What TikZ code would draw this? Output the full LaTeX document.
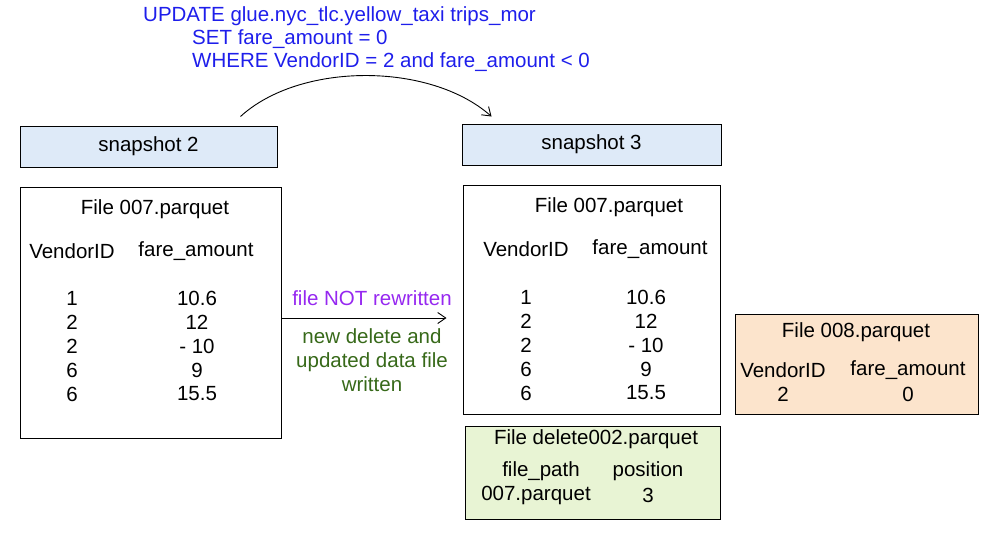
\documentclass[tikz,border=0pt]{standalone}
\usepackage{fontspec}
\setmainfont{Liberation Sans}
\usetikzlibrary{arrows.meta,positioning,calc}
\definecolor{sqlblue}{RGB}{30,30,235}
\definecolor{notpurple}{RGB}{150,40,240}
\definecolor{newgreen}{RGB}{55,105,25}
\definecolor{snapblue}{RGB}{222,234,248}
\definecolor{newfile}{RGB}{252,228,204}
\definecolor{delfile}{RGB}{232,244,212}

\begin{document}
\begin{tikzpicture}[
  x=1pt, y=-1pt,
  font=\fontsize{20.5}{24}\selectfont,
  box/.style={draw, line width=1pt, inner sep=0pt},
  snap/.style={box, fill=snapblue, minimum height=41pt},
  sql/.style={text=sqlblue, anchor=west, inner sep=0pt},
  arr/.style={-{Straight Barb[length=8pt,width=11pt]}, line width=0.9pt},
]
\useasboundingbox (0,0) rectangle (998,536);

\def\rh{24}  % row height

%% --- SQL statement ---
\node[sql] (upd) at (143,16) {UPDATE glue.nyc\_tlc.yellow\_taxi trips\_mor};
\node[sql] (set) at (192,39) {SET fare\_amount = 0};
\node[sql] (whr) at (192,62) {WHERE VendorID = 2 and fare\_amount < 0};

%% --- Snapshots ---
\node[snap, minimum width=257pt] (snap2) at (148.5,146.5) {snapshot 2};
\node[snap, minimum width=259pt] (snap3) at (591.5,144.5) {snapshot 3};
\draw[arr] ([xshift=-37pt,yshift=9pt]snap2.north east) .. controls (300,62) and (430,62)
  .. ([xshift=30pt,yshift=7pt]snap3.north west);

%% --- Snapshot 2 data file ---
\node[box, minimum width=261pt, minimum height=251pt] (lfile) at (150.5,312.5) {};
\node (ltitle) at (155,209) {File 007.parquet};
\node (lhv) at (72,251) {VendorID};
\node (lhf) at (196,251) {fare\_amount};
\foreach \v/\f [count=\i] in {1/10.6, 2/12, 2/- 10, 6/9, 6/15.5}{
  \node (lv\i) at (72, 274+\i*\rh) {\v};
  \node (lf\i) at (197, 274+\i*\rh) {\f};
}

%% --- Snapshot 3 data file ---
\node[box, minimum width=257pt, minimum height=229pt] (rfile) at (591.5,299.5) {};
\node (rtitle) at (609,207) {File 007.parquet};
\node (rhv) at (526,249) {VendorID};
\node (rhf) at (650,249) {fare\_amount};
\foreach \v/\f [count=\i] in {1/10.6, 2/12, 2/- 10, 6/9, 6/15.5}{
  \node (rv\i) at (526, 273+\i*\rh) {\v};
  \node (rf\i) at (646, 273+\i*\rh) {\f};
}

%% --- Middle arrow ---
\draw[arr] ([yshift=-5.5pt]lfile.east)
  -- ([xshift=-16pt,yshift=-5.5pt]lfile.east -| rfile.west);
\node[text=notpurple] (notrw) at (372,298) {file NOT rewritten};
\node[text=newgreen, align=center] (neww) at (372,360)
  {new delete and\\updated data file\\written};

%% --- New data file ---
\node[box, fill=newfile, minimum width=243pt, minimum height=100pt] (nfile) at (856.5,364) {};
\node (ntitle) at (856,332) {File 008.parquet};
\node (nhv) at (783,370) {VendorID};
\node (nhf) at (908,370) {fare\_amount};
\node (nv1) at (783,394) {2};
\node (nf1) at (908,394) {0};

%% --- Delete file ---
\node[box, fill=delfile, minimum width=255pt, minimum height=93pt] (dfile) at (592.5,472.5) {};
\node (dtitle) at (596,439) {File delete002.parquet};
\node (dhp) at (541,471) {file\_path};
\node (dhq) at (648,471) {position};
\node (dp1) at (536,495) {007.parquet};
\node (dq1) at (648,495) {3};

\end{tikzpicture}
\end{document}
